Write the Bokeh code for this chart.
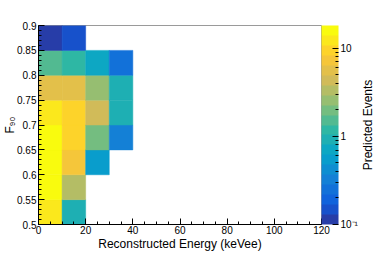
import numpy as np
from bokeh.plotting import figure
from bokeh.layouts import row
from bokeh.models import (LogColorMapper, ColorBar, FixedTicker, Range1d,
                          SingleIntervalTicker, ColumnDataSource, Title,
                          CustomJSTickFormatter)
from bokeh.embed import file_html
from bokeh.resources import INLINE

# ---- data ----
energy_low_edges = [0, 10, 20, 30]          # keVee, bin width 10
energy_bin_width = 10
f90_low_edges = [0.5, 0.55, 0.6, 0.65, 0.7, 0.75, 0.8, 0.85]   # bin width 0.05
f90_bin_width = 0.05

# predicted events per F90 bin (bottom -> top), one list per energy bin
events_0_10 = [12.5, 16.5, 17.2, 16.8, 12.0, 5.7, 1.55, 0.115]
events_10_20 = [0.91, 3.3, 7.2, 9.5, 9.4, 5.5, 1.2, 0.15]
events_20_30 = [None, None, 0.55, 2.0, 4.3, 2.6, 0.70, None]
events_30_40 = [None, None, None, 0.32, 0.92, 0.90, 0.25, None]

z_min, z_max = 0.1, 18.1
colorbar_major_ticks = [0.1, 1, 10]
colorbar_labels = {0.1: "10\u207b\u00b9", 1: "1", 10: "10"}

# ---- ROOT kBird palette, 20 contour levels ----
stops = [0.0, 0.125, 0.25, 0.375, 0.5, 0.625, 0.75, 0.875, 1.0]
red = [0.2082, 0.0592, 0.0780, 0.0232, 0.1802, 0.5301, 0.8186, 0.9956, 0.9764]
green = [0.1664, 0.3599, 0.5041, 0.6419, 0.7178, 0.7492, 0.7328, 0.7862, 0.9832]
blue = [0.5293, 0.8684, 0.8385, 0.7914, 0.6425, 0.4662, 0.3499, 0.1968, 0.0539]
n_colors = 255
pos = np.linspace(0, 1, n_colors)
rr = np.interp(pos, stops, red)
gg = np.interp(pos, stops, green)
bb = np.interp(pos, stops, blue)
full = ["#%02x%02x%02x" % (int(round(r * 255)), int(round(g * 255)), int(round(b * 255)))
        for r, g, b in zip(rr, gg, bb)]
n_levels = 20
palette = [full[int((i + 0.99) * n_colors / n_levels)] for i in range(n_levels)]

# ---- build table ----
columns = [events_0_10, events_10_20, events_20_30, events_30_40]
left, right, bottom, top, ev = [], [], [], [], []
for e_lo, col in zip(energy_low_edges, columns):
    for f_lo, v in zip(f90_low_edges, col):
        if v is None:
            continue
        left.append(e_lo)
        right.append(e_lo + energy_bin_width)
        bottom.append(f_lo)
        top.append(f_lo + f90_bin_width)
        ev.append(v)
src = ColumnDataSource(dict(left=left, right=right, bottom=bottom, top=top, events=ev))

mapper = LogColorMapper(palette=palette, low=z_min, high=z_max)

FONT = "Liberation Sans"

p = figure(width=360, height=253, x_range=Range1d(0, 120), y_range=Range1d(0.5, 0.9),
           output_backend="svg", toolbar_location=None,
           min_border_left=37, min_border_right=30, min_border_top=25, min_border_bottom=0)
p.background_fill_color = "white"
p.border_fill_color = "white"
p.outline_line_color = "#9a9a9a"
p.outline_line_width = 1
p.grid.visible = False

p.quad(left="left", right="right", bottom="bottom", top="top", source=src,
       fill_color={"field": "events", "transform": mapper},
       line_color={"field": "events", "transform": mapper}, line_width=0.5)

for ax in (p.xaxis[0], p.yaxis[0]):
    ax.axis_line_color = "black"
    ax.major_tick_line_color = "black"
    ax.minor_tick_line_color = "black"
    ax.major_tick_in = 6
    ax.major_tick_out = 0
    ax.minor_tick_in = 3
    ax.minor_tick_out = 0
    ax.major_label_text_font = FONT
    ax.major_label_text_font_size = "10px"
    ax.major_label_text_color = "black"
    ax.major_label_standoff = 2
    ax.axis_label_text_font = FONT
    ax.axis_label_text_font_size = "12px"
    ax.axis_label_text_font_style = "normal"
    ax.axis_label_text_color = "black"

p.xaxis.ticker = SingleIntervalTicker(interval=20, num_minor_ticks=4)
p.yaxis.ticker = SingleIntervalTicker(interval=0.05, num_minor_ticks=5)
p.yaxis.formatter = CustomJSTickFormatter(code="return String(parseFloat(tick.toFixed(2)));")

p.xaxis.axis_label = "Reconstructed Energy (keVee)"
p.xaxis.axis_label_standoff = 0
p.xaxis.major_label_standoff = 1

p.yaxis.axis_label = "F\u2089\u2080"
p.yaxis.axis_label_standoff = -3

cb = ColorBar(color_mapper=mapper,
              ticker=FixedTicker(ticks=colorbar_major_ticks,
                                 minor_ticks=[0.2, 0.3, 0.4, 0.5, 0.6, 0.7, 0.8, 0.9,
                                              2, 3, 4, 5, 6, 7, 8, 9]),
              major_label_overrides=colorbar_labels,
              width=17, padding=0, margin=0, label_standoff=2,
              major_tick_in=6, major_tick_out=0, major_tick_line_color="black",
              minor_tick_in=3, minor_tick_out=0, minor_tick_line_color="black",
              major_label_text_font=FONT, major_label_text_font_size="10px",
              major_label_text_color="black",
              bar_line_color=None, border_line_color=None, background_fill_color=None)
p.add_layout(cb, "right")

# narrow companion canvas holding the colour-scale title, read bottom-to-top
pt = figure(width=14, height=253, output_backend="svg", toolbar_location=None,
            x_axis_location=None, y_axis_location=None,
            min_border_left=0, min_border_right=0, min_border_top=25, min_border_bottom=26)
pt.outline_line_color = None
pt.grid.visible = False
pt.border_fill_color = "white"
pt.add_layout(Title(text="Predicted Events", align="center", text_font=FONT,
                    text_font_size="12px", text_font_style="normal",
                    text_color="black", standoff=0, offset=0), "left")

layout = row(p, pt, spacing=0)
open("out.html", "w").write(file_html(layout, INLINE))
